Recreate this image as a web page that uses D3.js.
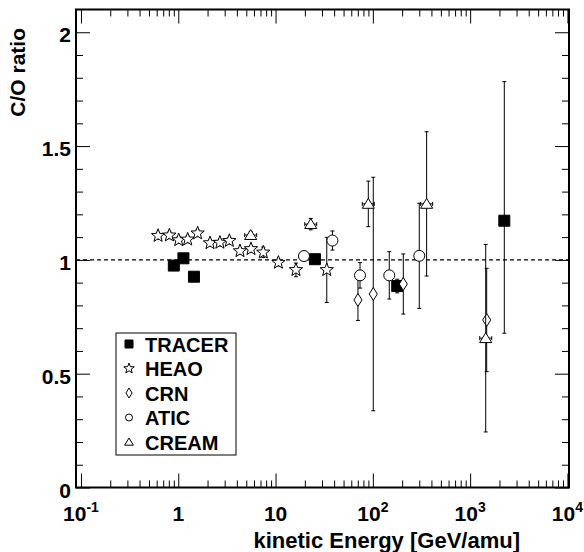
<!DOCTYPE html>
<html>
<head>
<meta charset="utf-8">
<script src="https://cdn.jsdelivr.net/npm/d3@7"></script>
<style>
  body { margin: 0; background: #fff; }
  svg { display: block; }
  text { font-family: "Liberation Sans", Arial, Helvetica, sans-serif; font-weight: bold; fill: #000; }
</style>
</head>
<body>
<svg id="chart" width="584" height="552"></svg>
<script>
// ---- C/O ratio measurements (energy in GeV/amu, symmetric or asymmetric errors) ----
const tracerE   = [0.90, 1.13, 1.45, 25.4, 178, 2244];
const tracerR   = [0.975, 1.007, 0.926, 1.003, 0.885, 1.172];
const tracerErrLo = [0.01, 0.01, 0.01, 0.01, 0.03, 0.494];
const tracerErrHi = [0.01, 0.01, 0.01, 0.01, 0.03, 0.611];

const heaoE   = [0.62, 0.81, 1.01, 1.25, 1.58, 2.12, 2.68, 3.35, 4.31, 5.59, 7.48, 10.7, 16.2, 33.6];
const heaoR   = [1.106, 1.108, 1.087, 1.090, 1.117, 1.074, 1.076, 1.084, 1.039, 1.048, 1.033, 0.988, 0.956, 0.956];
const heaoErr = [0.015, 0.015, 0.015, 0.015, 0.015, 0.015, 0.015, 0.015, 0.015, 0.015, 0.023, 0.015, 0.03, 0.143];

const crnE   = [70.3, 101, 205.6, 1479];
const crnR   = [0.824, 0.850, 0.894, 0.736];
const crnErr = [0.09, 0.513, 0.132, 0.227];

const aticE   = [19.6, 38.4, 73.8, 147.5, 300];
const aticR   = [1.017, 1.085, 0.932, 0.932, 1.018];
const aticErr = [0.02, 0.042, 0.056, 0.104, 0.231];

const creamE   = [5.55, 23.0, 89.8, 357, 1445];
const creamR   = [1.109, 1.157, 1.246, 1.246, 0.656];
const creamErr = [0.015, 0.025, 0.1, 0.317, 0.412];

// axis ticks and labels
const xMajor = [0.1, 1, 10, 100, 1000, 10000];
const xLabelBase = ["10", "1", "10", "10", "10", "10"];
const xLabelExp  = ["-1", "", "", "2", "3", "4"];
const yMajor = [0, 0.5, 1, 1.5, 2];
const yLabels = ["0", "0.5", "1", "1.5", "2"];
const legendNames = ["TRACER", "HEAO", "CRN", "ATIC", "CREAM"];

// ---- layout ----
const svg = d3.select("#chart");
const L = 76, R = 569, T = 9.5, B = 487.5;
const x = d3.scaleLog().domain([0.0889, 10375]).range([L, R]);
const y = d3.scaleLinear().domain([0, 2.1]).range([B, T]);

const xMinor = [];
[0.1, 1, 10, 100, 1000].forEach(d => { for (let k = 2; k <= 9; k++) xMinor.push(d * k); });
const yMinor = d3.range(1, 21).map(i => i / 10).filter(v => Math.abs(v * 2 - Math.round(v * 2)) > 1e-6);

// ---- axes: ticks on all four sides, pointing inward ----
function tickAxis(axisFn, scale, vals, len, transform) {
  const g = svg.append("g").attr("transform", transform)
    .call(axisFn(scale).tickValues(vals).tickSize(-len).tickFormat(""));
  g.select(".domain").remove();
  g.selectAll("line").attr("stroke", "#000").attr("stroke-width", 1);
}
tickAxis(d3.axisBottom, x, xMajor, 14, `translate(0,${B})`);
tickAxis(d3.axisBottom, x, xMinor, 7, `translate(0,${B})`);
tickAxis(d3.axisTop, x, xMajor, 14, `translate(0,${T})`);
tickAxis(d3.axisTop, x, xMinor, 7, `translate(0,${T})`);
tickAxis(d3.axisLeft, y, yMajor, 14, `translate(${L},0)`);
tickAxis(d3.axisLeft, y, yMinor, 7, `translate(${L},0)`);
tickAxis(d3.axisRight, y, yMajor, 14, `translate(${R},0)`);
tickAxis(d3.axisRight, y, yMinor, 7, `translate(${R},0)`);

// frame
svg.append("rect").attr("x", L).attr("y", T).attr("width", R - L).attr("height", B - T)
  .attr("fill", "none").attr("stroke", "#000").attr("stroke-width", 2);

// y tick labels
svg.append("g").selectAll("text").data(yMajor).join("text")
  .attr("x", 71).attr("y", d => y(d) + 10)
  .attr("text-anchor", "end").attr("font-size", 21)
  .text((d, i) => yLabels[i]);

// x tick labels with exponents
const xl = svg.append("g").selectAll("text").data(xMajor).join("text")
  .attr("x", d => x(d)).attr("y", 521)
  .attr("text-anchor", "middle").attr("font-size", 21);
xl.append("tspan").text((d, i) => xLabelBase[i]);
xl.append("tspan").attr("dy", -9).attr("font-size", 14).text((d, i) => xLabelExp[i]);

// axis titles
svg.append("text").attr("x", 520).attr("y", 548).attr("text-anchor", "end")
  .attr("font-size", 22).text("kinetic Energy [GeV/amu]");
svg.append("text").attr("transform", "translate(25,28) rotate(-90)").attr("text-anchor", "end")
  .attr("font-size", 21).text("C/O ratio");

// reference line at ratio = 1
svg.append("line").attr("x1", L).attr("x2", R).attr("y1", y(1)).attr("y2", y(1))
  .attr("stroke", "#000").attr("stroke-width", 1.2).attr("stroke-dasharray", "4,3");

// ---- marker shapes ----
function starPath(s) {
  const ro = s, ri = s * 0.42; let p = "";
  for (let i = 0; i < 10; i++) {
    const r = i % 2 ? ri : ro, a = -Math.PI / 2 + i * Math.PI / 5;
    p += (i ? "L" : "M") + (r * Math.cos(a)).toFixed(2) + "," + (r * Math.sin(a)).toFixed(2);
  }
  return p + "Z";
}
const shapes = {
  square:   s => `M${-s},${-s}H${s}V${s}H${-s}Z`,
  star:     s => starPath(s),
  diamond:  s => `M0,${-s}L${s * 0.62},0L0,${s}L${-s * 0.62},0Z`,
  circle:   s => `M${s},0A${s},${s} 0 1,1 ${-s},0A${s},${s} 0 1,1 ${s},0Z`,
  triangle: s => `M0,${-s}L${s * 1.1},${s * 0.8}L${-s * 1.1},${s * 0.8}Z`
};

const series = [
  { E: tracerE, R: tracerR, lo: tracerErrLo, hi: tracerErrHi, shape: "square", size: 5.5, fill: "#000", legSize: 4 },
  { E: heaoE, R: heaoR, lo: heaoErr, hi: heaoErr, shape: "star", size: 7, fill: "#fff", legSize: 5.5 },
  { E: crnE, R: crnR, lo: crnErr, hi: crnErr, shape: "diamond", size: 6.5, fill: "#fff", legSize: 5 },
  { E: aticE, R: aticR, lo: aticErr, hi: aticErr, shape: "circle", size: 5.5, fill: "#fff", legSize: 3.5 },
  { E: creamE, R: creamR, lo: creamErr, hi: creamErr, shape: "triangle", size: 5.5, fill: "#fff", legSize: 4, xbar: true }
];

const marks = svg.append("g");
series.forEach(s => {
  const pts = s.E.map((e, i) => ({ e, r: s.R[i], lo: s.lo[i], hi: s.hi[i] }));
  const g = marks.append("g");
  // vertical error bars with end caps
  const eb = g.selectAll("g.err").data(pts).join("g").attr("class", "err");
  eb.append("line").attr("x1", d => x(d.e)).attr("x2", d => x(d.e))
    .attr("y1", d => y(d.r + d.hi)).attr("y2", d => y(d.r - d.lo))
    .attr("stroke", "#000").attr("stroke-width", 1);
  [d => y(d.r + d.hi), d => y(d.r - d.lo)].forEach(fy => {
    eb.append("line").attr("x1", d => x(d.e) - 2).attr("x2", d => x(d.e) + 2)
      .attr("y1", fy).attr("y2", fy).attr("stroke", "#000").attr("stroke-width", 1);
  });
  if (s.xbar) {
    eb.append("line").attr("x1", d => x(d.e) - 6).attr("x2", d => x(d.e) + 6)
      .attr("y1", d => y(d.r)).attr("y2", d => y(d.r)).attr("stroke", "#000").attr("stroke-width", 1);
    [-6, 6].forEach(o => {
      eb.append("line").attr("x1", d => x(d.e) + o).attr("x2", d => x(d.e) + o)
        .attr("y1", d => y(d.r) - 2).attr("y2", d => y(d.r) + 2)
        .attr("stroke", "#000").attr("stroke-width", 1);
    });
  }
  g.selectAll("path").data(pts).join("path")
    .attr("transform", d => `translate(${x(d.e)},${y(d.r)})`)
    .attr("d", shapes[s.shape](s.size))
    .attr("fill", s.fill).attr("stroke", "#000").attr("stroke-width", 1);
});

// ---- legend ----
const leg = svg.append("g");
leg.append("rect").attr("x", 116).attr("y", 333).attr("width", 120).attr("height", 122)
  .attr("fill", "#fff").attr("stroke", "#000").attr("stroke-width", 1);
legendNames.forEach((name, i) => {
  const cy = 344 + i * 24.5;
  leg.append("path").attr("transform", `translate(129,${cy})`)
    .attr("d", shapes[series[i].shape](series[i].legSize))
    .attr("fill", series[i].fill).attr("stroke", "#000").attr("stroke-width", 1);
  leg.append("text").attr("x", 145).attr("y", cy + 7.5).attr("font-size", 20).text(name);
});
</script>
</body>
</html>
